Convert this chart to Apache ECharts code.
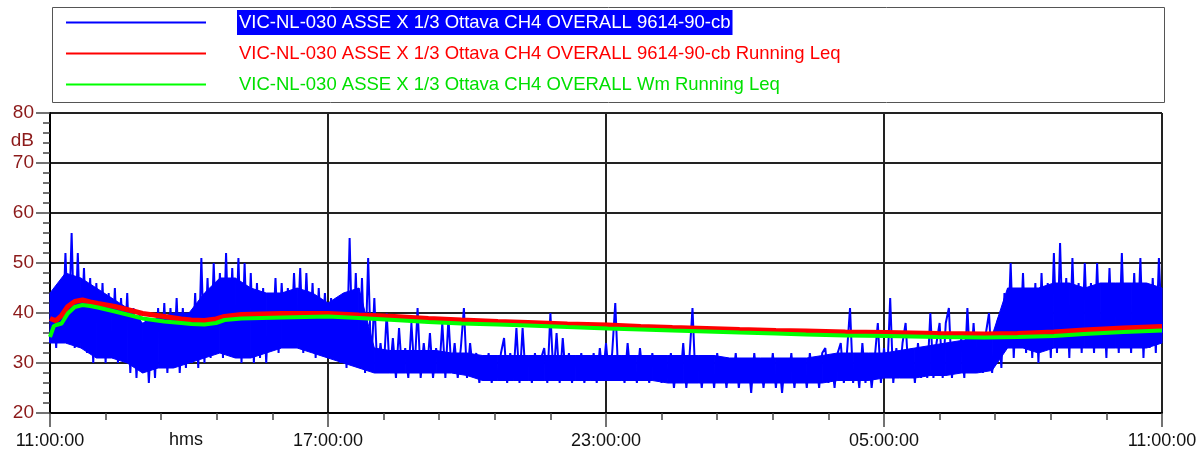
<!DOCTYPE html>
<html>
<head>
<meta charset="utf-8">
<script src="https://cdn.jsdelivr.net/npm/echarts@6/dist/echarts.min.js"></script>
<style>
  html, body {margin: 0; padding: 0; background: #fff;}
  #chart {width: 1204px; height: 454px;}
</style>
</head>
<body>
<div id="chart"></div>
<script>
// names of the three traces
var seriesNames = [
    'VIC-NL-030 ASSE X 1/3 Ottava CH4 OVERALL 9614-90-cb',
    'VIC-NL-030 ASSE X 1/3 Ottava CH4 OVERALL 9614-90-cb Running Leq',
    'VIC-NL-030 ASSE X 1/3 Ottava CH4 OVERALL Wm Running Leq'
];

// x is minutes after 11:00:00, one reading every 4 minutes
var BLUE_STEP = 4;
var blueLevels = [
    34, 44, 33, 45, 34, 52, 35, 56, 33, 52,
    34, 49, 32, 47, 30, 46, 31, 46, 30, 44,
    31, 45, 30, 43, 31, 44, 28, 41, 27, 40,
    28, 39, 26, 38, 27, 41, 29, 42, 28, 41,
    29, 43, 28, 41, 29, 40, 30, 44, 29, 51,
    30, 47, 31, 50, 32, 48, 31, 52, 32, 49,
    31, 51, 30, 50, 31, 48, 30, 46, 31, 45,
    30, 44, 33, 47, 32, 46, 34, 45, 33, 48,
    34, 49, 32, 48, 33, 46, 31, 45, 33, 44,
    32, 43, 31, 42, 30, 43, 29, 55, 30, 48,
    29, 47, 28, 51, 29, 43, 28, 34, 28, 40,
    28, 35, 27, 37, 28, 33, 27, 38, 28, 41,
    27, 34, 28, 36, 27, 33, 28, 38, 27, 39,
    28, 34, 27, 33, 41, 27, 34, 28, 32, 26,
    31, 27, 32, 26, 31, 27, 32, 35, 26, 32,
    27, 37, 26, 37, 27, 31, 26, 32, 27, 31,
    33, 26, 40, 27, 36, 26, 35, 27, 32, 26,
    31, 27, 32, 26, 31, 27, 32, 26, 33, 27,
    34, 27, 32, 42, 27, 31, 26, 34, 27, 31,
    26, 33, 27, 31, 26, 32, 27, 31, 26, 31,
    27, 32, 25, 31, 26, 34, 25, 31, 41, 26,
    31, 25, 31, 26, 31, 25, 32, 26, 31, 25,
    31, 26, 32, 25, 31, 26, 31, 24, 32, 26,
    31, 25, 31, 26, 32, 25, 31, 24, 31, 26,
    32, 25, 31, 26, 31, 25, 32, 26, 31, 25,
    32, 33, 26, 31, 25, 32, 34, 26, 32, 41,
    26, 31, 25, 34, 26, 32, 25, 31, 38, 26,
    33, 27, 43, 26, 33, 27, 34, 38, 27, 33,
    26, 34, 27, 33, 27, 40, 27, 34, 38, 27,
    38, 41, 27, 34, 28, 35, 27, 41, 28, 38,
    28, 35, 28, 36, 40, 28, 36, 39, 29, 44,
    33, 50, 31, 45, 33, 48, 32, 45, 31, 46,
    30, 48, 33, 46, 31, 52, 32, 54, 33, 47,
    31, 51, 33, 46, 32, 50, 33, 46, 32, 50,
    33, 45, 31, 49, 33, 46, 32, 52, 33, 45,
    32, 48, 33, 51, 31, 46, 33, 47, 32, 51,
    36
];

// dense body of the blue trace (bottom / top), every 20 minutes
var BAND_STEP = 20;
var bandLow = [34, 34, 33, 31, 31, 30, 28, 29, 29, 30,
    31, 32, 31, 31, 32, 33, 33, 32, 31, 30,
    29, 28, 28, 28, 28, 28, 28, 27.5, 26.5, 26.5,
    26.5, 26.5, 26.5, 26.5, 26.5, 26.5, 26.5, 26.5, 26.5, 26.5,
    26, 26, 26, 26, 26, 26, 26, 26, 26, 26,
    26, 26.5, 26.5, 26.5, 27, 27, 27, 27.5, 27.5, 28,
    28, 28.5, 33, 33, 32, 33, 33, 33, 33, 33,
    33, 33, 34];
var bandHigh = [44, 48, 47, 45, 43, 41, 38, 39, 40, 40,
    44, 47, 47, 45, 44, 44, 45, 44, 42, 44,
    45, 33, 32.5, 32.5, 32.5, 32.5, 32, 32, 31.5, 31.5,
    31.5, 31.5, 31.5, 31.5, 31.5, 31.5, 31.5, 31.5, 31.5, 31.5,
    31.5, 31.5, 31.5, 31.5, 31, 31, 31, 31, 31, 31,
    31.5, 32, 32, 32, 32, 32.5, 33, 33.5, 34, 34.5,
    35, 35.5, 45, 45, 45, 46, 46, 45, 46, 46,
    46, 46, 45];

// running Leq traces
var leqMinutes = [0, 5, 8, 15, 23, 32, 42, 52, 62, 84, 105, 120, 148, 170, 183, 200, 215, 226, 248, 300,
    360, 400, 446, 490, 533, 580, 619, 670, 722, 765, 806, 850, 893, 940, 979, 1030, 1083, 1150, 1210, 1253,
    1300, 1339, 1390, 1440];
var leqLevels = [38.9, 38.6, 38.5, 39.5, 41.3, 42.3, 42.6, 42.2, 41.9, 41.3, 40.5, 39.9, 39.3, 38.8, 38.6, 38.5, 38.8, 39.3, 39.7, 39.9,
    39.9, 39.6, 39.3, 38.9, 38.6, 38.3, 38.1, 37.8, 37.6, 37.3, 37.1, 36.9, 36.7, 36.5, 36.4, 36.2, 36.1, 35.9, 35.8, 35.9,
    36.2, 36.6, 37.0, 37.3];
var wmLevels = [35.2, 37.4, 37.6, 37.9, 39.9, 41.2, 41.6, 41.4, 41.1, 40.3, 39.5, 38.9, 38.3, 38.0, 37.8, 37.7, 38.0, 38.6, 38.9, 39.1,
    39.3, 39.0, 38.6, 38.2, 37.9, 37.7, 37.5, 37.2, 36.9, 36.7, 36.5, 36.3, 36.1, 35.9, 35.7, 35.5, 35.4, 35.2, 35.1, 35.2,
    35.4, 35.8, 36.2, 36.5];

var FONT = "'Liberation Sans', Arial, sans-serif";
var LABEL_RED = '#8c1a1a';

function fmtTime(m) {
    var t = (11 * 60 + m) % 1440;
    var hh = Math.floor(t / 60), mm = t % 60;
    return (hh < 10 ? '0' : '') + hh + ':' + (mm < 10 ? '0' : '') + mm + ':00';
}

// one quad of the blue body between reading i and i+1
function renderBand(params, api) {
    var i = params.dataIndex;
    if (i >= bandLow.length - 1) return;
    var x0 = i * BAND_STEP, x1 = (i + 1) * BAND_STEP;
    return {
        type: 'polygon',
        shape: {points: [api.coord([x0, bandLow[i]]), api.coord([x0, bandHigh[i]]),
                         api.coord([x1, bandHigh[i + 1]]), api.coord([x1, bandLow[i + 1]])]},
        style: {fill: '#0000ff', stroke: '#0000ff', lineWidth: 1}
    };
}

var chart = echarts.init(document.getElementById('chart'));

var legendRich = {
    pad: {width: 26, fontSize: 18.5, fontFamily: FONT},
    hl: {color: '#fff', backgroundColor: '#0000ff', fontSize: 18.5, fontFamily: FONT, padding: [3, 2], lineHeight: 19},
    r: {color: '#ff0000', fontSize: 18.5, fontFamily: FONT, padding: [3, 2], lineHeight: 19},
    g: {color: '#00e000', fontSize: 18.5, fontFamily: FONT, padding: [3, 2], lineHeight: 19}
};
var legendTag = ['hl', 'r', 'g'];

var option = {
    backgroundColor: '#fff',
    animation: false,
    grid: {left: 50, right: 42, top: 113, bottom: 41},
    graphic: [
        {type: 'rect', left: 50, top: 5, shape: {width: 1112, height: 95}, style: {fill: 'none', stroke: '#555', lineWidth: 1}},
        {type: 'text', right: 1170, top: 131, style: {text: 'dB', fill: LABEL_RED, font: '19px ' + FONT, textAlign: 'right'}},
        {type: 'text', left: 169, top: 431, style: {text: 'hms', fill: '#111', font: '18px ' + FONT}}
    ],
    legend: {
        orient: 'vertical', left: 65, top: 10, padding: 0,
        itemWidth: 140, itemHeight: 25, itemGap: 6,
        selectedMode: false,
        itemStyle: {opacity: 0},
        data: seriesNames,
        formatter: function (name) {
            var i = seriesNames.indexOf(name);
            return '{pad| }{' + legendTag[i] + '|' + name + '}';
        },
        textStyle: {fontFamily: FONT, fontSize: 18.5, rich: legendRich}
    },
    xAxis: {
        type: 'value', min: 0, max: 1440, interval: 360,
        axisLine: {lineStyle: {color: '#000', width: 2}},
        axisTick: {length: 14, lineStyle: {color: '#444', width: 1.5}},
        minorTick: {show: true, splitNumber: 5, length: 7, lineStyle: {color: '#444', width: 1.5}},
        splitLine: {show: true, lineStyle: {color: '#222', width: 2}},
        axisLabel: {formatter: fmtTime, color: '#111', fontSize: 18, fontFamily: FONT, margin: 19, showMinLabel: true, showMaxLabel: true}
    },
    yAxis: {
        type: 'value', min: 20, max: 80, interval: 10,
        axisLine: {show: true, lineStyle: {color: '#000', width: 2}},
        axisTick: {show: true, length: 14, lineStyle: {color: '#444', width: 1.5}},
        minorTick: {show: true, splitNumber: 5, length: 7, lineStyle: {color: '#444', width: 1.5}},
        splitLine: {show: true, lineStyle: {color: '#222', width: 2}},
        axisLabel: {color: LABEL_RED, fontSize: 19, fontFamily: FONT, margin: 16}
    },
    series: [
        {
            name: 'band', type: 'custom', silent: true, z: 1,
            renderItem: renderBand,
            encode: {x: 0, y: [1, 2]},
            data: bandLow.map(function (v, i) { return [i * BAND_STEP, v, bandHigh[i]]; })
        },
        {
            name: seriesNames[0], type: 'line', symbol: 'none', silent: true, z: 2,
            lineStyle: {color: '#0000ff', width: 2}, itemStyle: {color: '#0000ff'},
            data: blueLevels.map(function (v, i) { return [i * BLUE_STEP, v]; })
        },
        {
            name: seriesNames[1], type: 'line', symbol: 'none', silent: true, z: 3,
            lineStyle: {color: '#ff0000', width: 5}, itemStyle: {color: '#ff0000'},
            data: leqMinutes.map(function (m, i) { return [m, leqLevels[i]]; })
        },
        {
            name: seriesNames[2], type: 'line', symbol: 'none', silent: true, z: 4,
            lineStyle: {color: '#00ff00', width: 4}, itemStyle: {color: '#00ff00'},
            data: leqMinutes.map(function (m, i) { return [m, wmLevels[i]]; })
        }
    ]
};

chart.setOption(option);
</script>
</body>
</html>
